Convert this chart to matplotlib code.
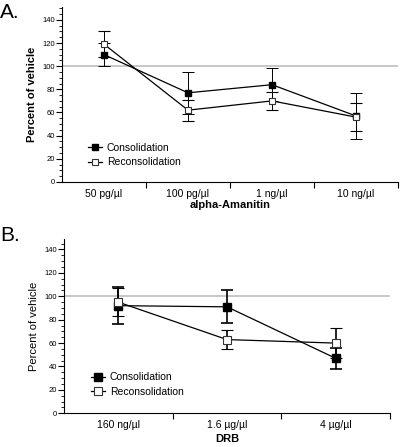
import matplotlib
matplotlib.use("Agg")
import matplotlib.pyplot as plt
from matplotlib.lines import Line2D
from matplotlib.ticker import MultipleLocator, FixedLocator

# panel A: alpha-Amanitin
amanitin_doses = ["50 pg/\u00b5l", "100 pg/\u00b5l", "1 ng/\u00b5l", "10 ng/\u00b5l"]
amanitin_cons = [110, 77, 84, 57]
amanitin_cons_err = [10, 18, 14, 20]
amanitin_recon = [119, 62, 70, 56]
amanitin_recon_err = [11, 9, 8, 12]

# panel B: DRB
drb_doses = ["160 ng/\u00b5l", "1.6 \u00b5g/\u00b5l", "4 \u00b5g/\u00b5l"]
drb_cons = [92, 91, 47]
drb_cons_err = [16, 14, 9]
drb_recon = [95, 63, 60]
drb_recon_err = [12, 8, 13]

plt.rcParams["font.family"] = ["Liberation Sans", "DejaVu Sans"]

fig = plt.figure(figsize=(4.0, 4.47), dpi=100)


def draw_panel(ax, doses, cons, cons_err, recon, recon_err, xlabel, ylim_top,
               bold_ylabel, ms, elw, legend_loc, xlabelpad):
    x = list(range(len(doses)))
    ax.axhline(100, color="#b8b8b8", lw=1.1, zorder=1)
    ax.errorbar(x, cons, yerr=cons_err, color="black", lw=0.9, elinewidth=elw,
                capsize=4, capthick=elw, marker="s", ms=ms, mfc="black",
                mec="black", zorder=3)
    ax.errorbar(x, recon, yerr=recon_err, color="black", lw=0.9, elinewidth=elw,
                capsize=4, capthick=elw, marker="s", ms=ms, mfc="white",
                mec="#333333", mew=0.8, zorder=3)
    ax.set_xlim(-0.5, len(doses) - 0.5)
    ax.set_ylim(0, ylim_top)
    for side in ("top", "right"):
        ax.spines[side].set_visible(False)
    ax.yaxis.set_major_locator(FixedLocator(range(0, 141, 20)))
    ax.yaxis.set_minor_locator(MultipleLocator(5))
    ax.tick_params(axis="y", which="major", length=4, width=0.8, labelsize=5.5,
                   pad=1)
    ax.tick_params(axis="y", which="minor", length=2, width=0.6)
    ax.xaxis.set_major_locator(FixedLocator([i + 0.5 for i in x]))
    ax.xaxis.set_minor_locator(FixedLocator(x))
    ax.set_xticklabels([], minor=False)
    ax.set_xticklabels(doses, minor=True)
    ax.tick_params(axis="x", which="major", length=4, width=0.8)
    ax.tick_params(axis="x", which="minor", length=0, labelsize=7.5, pad=5)
    ax.set_xlabel(xlabel, fontsize=8, fontweight="bold", labelpad=xlabelpad)
    ax.set_ylabel("Percent of vehicle", fontsize=8,
                  fontweight="bold" if bold_ylabel else "normal", labelpad=4)
    handles = [
        Line2D([], [], color="black", lw=0.9, marker="s", ms=ms, mfc="black",
               mec="black"),
        Line2D([], [], color="black", lw=0.9, marker="s", ms=ms, mfc="white",
               mec="#333333", mew=0.8),
    ]
    ax.legend(handles, ["Consolidation", "Reconsolidation"], loc="lower left",
              bbox_to_anchor=legend_loc, frameon=False, fontsize=7.5,
              handlelength=1.3, handletextpad=0.5, labelspacing=0.45,
              borderaxespad=0)


ax_a = fig.add_axes([0.155, 0.593, 0.84, 0.391])
draw_panel(ax_a, amanitin_doses, amanitin_cons, amanitin_cons_err,
           amanitin_recon, amanitin_recon_err, "alpha-Amanitin", 151, True,
           5, 0.7, (0.065, 0.06), 0.5)

ax_b = fig.add_axes([0.16, 0.0754, 0.815, 0.39])
draw_panel(ax_b, drb_doses, drb_cons, drb_cons_err, drb_recon, drb_recon_err,
           "DRB", 149, False, 6, 1.2, (0.07, 0.07), 3)

fig.text(0.0, 0.972, "A.", fontsize=15, va="center", ha="left")
fig.text(0.0, 0.474, "B.", fontsize=15, va="center", ha="left")

fig.savefig("out.png", dpi=100)
